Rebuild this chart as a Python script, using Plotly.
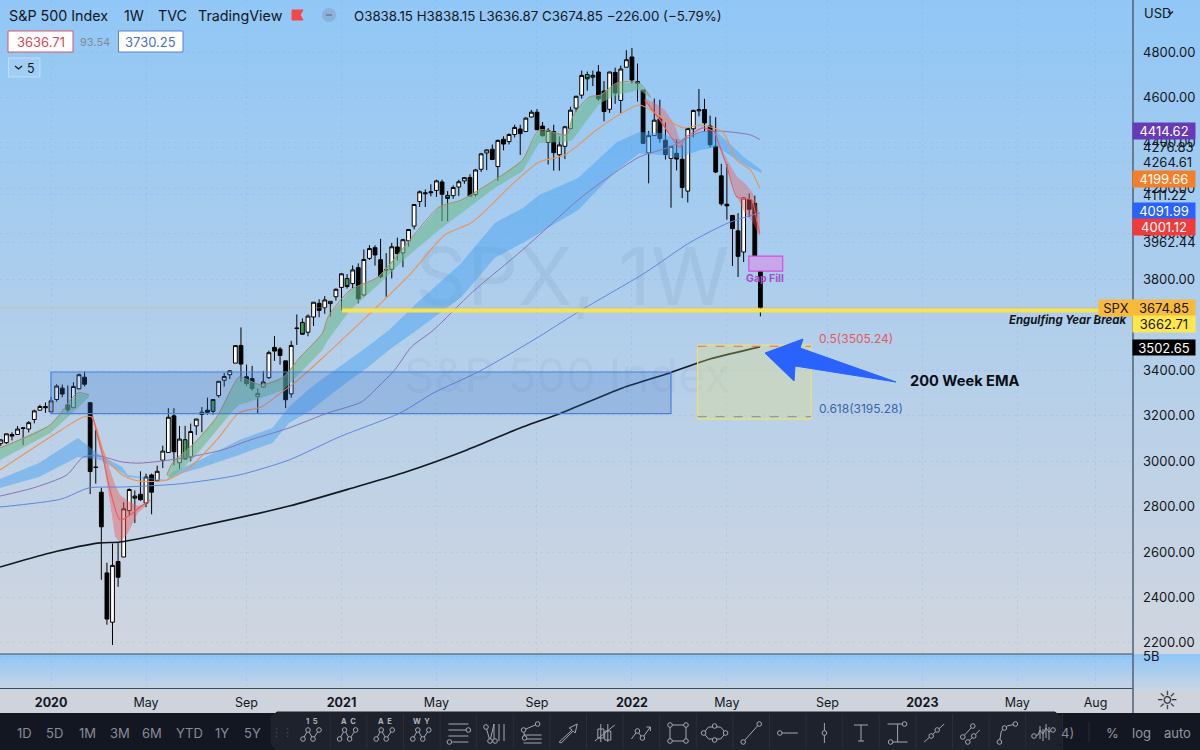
import pandas as pd
import plotly.graph_objects as go

W, H = 1200, 750
AXIS_X = 1133   # left edge of the price scale, pixels
TEXT = "#131722"
FONT = "Inter"

# weekly candles, S&P 500
opens = [3078, 3081, 3117, 3117, 3144, 3141, 3183, 3224, 3240, 3217,
         3271, 3321, 3247, 3235, 3318, 3369, 3257, 2974, 2863, 2508,
         2291, 2558, 2578, 2782, 2846, 2854, 2815, 2939, 2913, 3004,
         3038, 3199, 2993, 3094, 3018, 3155, 3205, 3224, 3219, 3288,
         3356, 3380, 3431, 3509, 3371, 3363, 3285, 3326, 3367, 3500,
         3493, 3441, 3296, 3583, 3610, 3567, 3634, 3694, 3675, 3693,
         3723, 3764, 3803, 3781, 3851, 3731, 3892, 3939, 3886, 3842,
         3844, 3942, 3916, 3969, 4034, 4142, 4176, 4185, 4191, 4228,
         4169, 4168, 4206, 4233, 4248, 4173, 4284, 4356, 4372, 4296,
         4416, 4406, 4437, 4461, 4450, 4514, 4535, 4474, 4402, 4450,
         4348, 4385, 4463, 4553, 4610, 4701, 4689, 4712, 4628, 4548,
         4710, 4587, 4733, 4778, 4670, 4632, 4356, 4432, 4505, 4412,
         4332, 4354, 4328, 4188, 4462, 4541, 4547, 4474, 4385, 4255,
         4130, 4081, 4013, 3920, 4151, 4134, 3838.15]
highs = [3097, 3120, 3127, 3154, 3150, 3176, 3226, 3248, 3258, 3282,
         3338, 3337, 3333, 3347, 3385, 3393, 3260, 3137, 2883, 2553,
         2637, 2641, 2819, 2880, 2871, 2955, 2945, 2945, 2980, 3068,
         3233, 3233, 3155, 3155, 3165, 3186, 3238, 3279, 3272, 3352,
         3387, 3399, 3509, 3588, 3425, 3419, 3320, 3397, 3486, 3550,
         3502, 3441, 3529, 3645, 3628, 3645, 3699, 3712, 3726, 3703,
         3760, 3826, 3823, 3861, 3870, 3931, 3950, 3950, 3978, 3915,
         3960, 3983, 3978, 4019, 4130, 4191, 4195, 4218, 4238, 4238,
         4188, 4213, 4238, 4249, 4262, 4286, 4356, 4372, 4393, 4415,
         4429, 4442, 4480, 4480, 4513, 4545, 4549, 4492, 4465, 4480,
         4429, 4475, 4559, 4608, 4718, 4714, 4718, 4743, 4672, 4713,
         4731, 4740, 4808, 4818, 4749, 4632, 4453, 4595, 4590, 4490,
         4385, 4416, 4389, 4465, 4546, 4637, 4594, 4520, 4513, 4308,
         4307, 4081, 4091, 4159, 4178, 4168, 3838.15]
lows = [3066, 3075, 3091, 3115, 3070, 3126, 3166, 3222, 3212, 3214,
        3262, 3281, 3214, 3235, 3316, 3328, 2855, 2901, 2478, 2280,
        2191, 2447, 2578, 2761, 2727, 2825, 2797, 2766, 2910, 2969,
        3038, 2982, 2965, 3007, 2999, 3115, 3127, 3204, 3204, 3279,
        3328, 3361, 3431, 3349, 3330, 3310, 3209, 3323, 3361, 3441,
        3424, 3233, 3279, 3511, 3557, 3549, 3594, 3633, 3648, 3636,
        3706, 3663, 3759, 3760, 3694, 3725, 3885, 3860, 3805, 3723,
        3804, 3883, 3853, 3944, 4020, 4118, 4118, 4165, 4162, 4056,
        4056, 4154, 4167, 4220, 4165, 4164, 4272, 4280, 4325, 4233,
        4367, 4393, 4424, 4347, 4449, 4513, 4458, 4427, 4305, 4278,
        4278, 4329, 4459, 4537, 4595, 4630, 4650, 4585, 4495, 4532,
        4572, 4531, 4733, 4662, 4582, 4395, 4222, 4431, 4401, 4327,
        4115, 4279, 4157, 4138, 4424, 4517, 4450, 4381, 4267, 4124,
        4062, 3858, 3810, 3876, 4074, 3900, 3636.87]
closes = [3093, 3120, 3110, 3141, 3146, 3169, 3221, 3240, 3235, 3265,
          3330, 3295, 3225, 3328, 3380, 3338, 2954, 2972, 2711, 2305,
          2541, 2489, 2790, 2875, 2837, 2830, 2930, 2863, 2955, 3044,
          3193, 3041, 3097, 3009, 3130, 3185, 3215, 3215, 3271, 3351,
          3372, 3397, 3508, 3427, 3341, 3319, 3298, 3348, 3477, 3484,
          3465, 3270, 3509, 3585, 3558, 3638, 3699, 3663, 3709, 3703,
          3756, 3824, 3768, 3841, 3714, 3887, 3935, 3907, 3811, 3842,
          3943, 3913, 3974, 4019, 4129, 4185, 4180, 4181, 4233, 4174,
          4156, 4204, 4229, 4247, 4166, 4281, 4352, 4369, 4327, 4411,
          4395, 4437, 4468, 4441, 4509, 4535, 4458, 4432, 4455, 4357,
          4391, 4471, 4544, 4605, 4697, 4682, 4697, 4594, 4538, 4712,
          4620, 4725, 4766, 4677, 4662, 4398, 4432, 4500, 4419, 4349,
          4385, 4329, 4204, 4463, 4543, 4546, 4488, 4392, 4272, 4132,
          4123, 4023, 3901, 4158, 4108, 3901, 3674.85]
green_weeks = ["2020-04-20", "2020-06-22", "2020-07-27", "2020-11-16",
               "2021-01-11", "2021-05-17", "2021-11-08"]

# moving averages: bar slot, price
ema200_at = [0, 9, 18, 21.6, 36, 52, 64, 73, 84, 94, 101, 112, 120.5, 127.7, 136.7]
ema200 = [2534, 2596, 2640, 2644, 2714, 2802, 2886, 2952, 3049, 3150, 3212, 3322, 3388, 3449, 3502.65]

ema100_at = [0, 11, 16, 22, 32, 43, 52, 61, 72, 78, 86, 96, 104, 116, 124, 131, 136.7]
ema100 = [2798, 2833, 2882, 2886, 2899, 2939, 3005, 3106, 3212, 3300, 3392, 3533, 3656, 3828, 3960, 4048, 4091.99]

ema50_at = [0, 6, 12, 15, 18, 22, 25, 29, 34, 40, 45, 52, 59, 65, 68, 71, 74, 78, 85, 94,
            104, 108, 115, 120.5, 126, 129.5, 135, 136.7]
ema50 = [2846, 2882, 2939, 3018, 3022, 2996, 2991, 3000, 3018, 3049, 3093, 3146, 3212, 3260, 3326, 3401, 3502, 3577, 3744, 3929,
         4149, 4224, 4338, 4382, 4448, 4452, 4435, 4414.62]

ema21_at = [0, 11, 15, 16.5, 19, 22, 25, 30, 34, 39, 43, 47, 50, 53, 59, 61.5, 68, 74, 80, 85, 93,
            97, 101.6, 108, 115, 119, 123, 126, 130, 132.5, 135, 136.7]
ema21 = [2961, 3137, 3194, 3194, 3018, 2939, 2912, 2917, 2970, 3093, 3212, 3238, 3291, 3344, 3476, 3533, 3683, 3828, 3995, 4052, 4237,
         4316, 4347, 4470, 4567, 4514, 4466, 4479, 4448, 4325, 4281, 4199.66]

# blue ribbon
blue_at = [0, 7, 14, 18, 22, 23, 30, 31, 36, 43, 49, 52, 56, 61, 66, 70, 75, 83, 89, 94,
           97, 104, 111, 115, 119, 122, 126, 129, 134, 137]
blue_top = [2921, 2992, 3102, 3027, 2974, 2939, 2917, 2952, 3005, 3093, 3146, 3238, 3326, 3414, 3502, 3577, 3696, 3872, 4048, 4113,
            4171, 4246, 4404, 4448, 4444, 4413, 4448, 4448, 4334, 4281]
blue_bot = [2882, 2930, 3018, 3005, 2948, 2930, 2912, 2934, 2970, 3027, 3080, 3168, 3225, 3322, 3410, 3489, 3577, 3722, 3894, 3960,
            4003, 4105, 4281, 4355, 4347, 4334, 4369, 4382, 4303, 4268]

# green ribbon, early and long stretch
green1_at = [0, 9, 14, 16]
green1_top = [3058, 3159, 3300, 3291]
green1_bot = [3005, 3123, 3234, 3282]

green2_at = [30, 31, 35, 39, 42, 43, 47, 51, 54, 58, 59, 63, 68, 73, 79, 83, 89, 94, 97, 102, 103, 106, 108, 111, 115, 117]
green2_top = [2939, 2991, 3080, 3194, 3335, 3370, 3335, 3370, 3458, 3563, 3634, 3753, 3810, 3951, 4118, 4149, 4237, 4325, 4457, 4436, 4515, 4602, 4611, 4664, 4664, 4602]
green2_bot = [2934, 2925, 3018, 3137, 3225, 3247, 3278, 3313, 3388, 3489, 3533, 3665, 3775, 3894, 4017, 4092, 4202, 4275, 4400, 4405, 4413, 4514, 4576, 4611, 4633, 4598]

# red ribbon, three stretches
red1_at = [16.7, 18.5, 19.8, 20.7, 21.6, 23, 24.8, 27, 28.8]
red1_top = [3194, 3049, 2961, 2895, 2851, 2824, 2802, 2820, 2882]
red1_bot = [3194, 3018, 2816, 2666, 2644, 2683, 2772, 2820, 2882]
red1_line_at = [16.7, 18.5, 19.8, 21.6, 23.4, 25.2, 27]
red1_line = [3194, 3018, 2873, 2741, 2763, 2798, 2829]

red2_at = [116, 117.8, 119.6, 121.4, 122.7]
red2_top = [4598, 4576, 4545, 4479, 4382]
red2_bot = [4580, 4523, 4470, 4413, 4382]
red2_line_at = [116, 118.7, 122.3, 123.2, 125, 126.4, 128.6]
red2_line = [4589, 4501, 4382, 4422, 4448, 4466, 4448]

red3_at = [128.6, 129.5, 130.8, 132.6, 134, 135.4, 136.7]
red3_top = [4448, 4391, 4325, 4250, 4224, 4180, 4083]
red3_bot = [4448, 4382, 4294, 4162, 4092, 4052, 3986]
red3_line_at = [128.6, 129.5, 130.8, 132.6, 135.2, 136.1, 136.7]
red3_line = [4448, 4382, 4294, 4162, 4149, 4061, 4001.12]

# axis labels
price_ticks = [4800, 4600, 4400, 4200, 4000, 3800, 3400, 3200, 3000, 2800, 2600, 2400, 2200]
off_scale_ticks = [4382, 4312, 4171, 3960, 2142]   # these labels sit away from their own price
off_scale_labels = ["4276.83", "4264.61", "4111.22", "3962.44", "5B"]
time_ticks = ["2020-01-06", "2020-05-04", "2020-09-07", "2021-01-04", "2021-05-03", "2021-09-06",
              "2022-01-03", "2022-05-02", "2022-09-05", "2023-01-02", "2023-05-01", "2023-08-07"]
time_labels = ["<b>2020</b>", "May", "Sep", "<b>2021</b>", "May", "Sep",
               "<b>2022</b>", "May", "Sep", "<b>2023</b>", "May", "Aug"]
ranges = ["1D", "5D", "1M", "3M", "6M", "YTD", "1Y", "5Y"]
range_x = [24, 54, 87, 120, 152, 189, 222, 252]

dates = pd.date_range("2019-11-04", periods=len(closes), freq="7D")
x_start = pd.Timestamp("2019-11-03")
x_end = pd.Timestamp("2023-09-23")


def slot_date(slot):
    # bar slots are 5.56 px apart, the time axis runs at 0.7981 px per day
    return x_start + pd.Timedelta(days=slot * 6.967)


def slot_dates(slots):
    return [slot_date(s) for s in slots]


def px(x):
    return x / W


def py(y):
    return 1 - y / H


shapes = []
annotations = []


def box(x0, y0, x1, y1, fill, line=None, layer="above", width=1):
    shapes.append(dict(type="rect", xref="paper", yref="paper", x0=px(x0), x1=px(x1), y0=py(y0), y1=py(y1),
                       fillcolor=fill, line=dict(color=line or "rgba(0,0,0,0)", width=width if line else 0), layer=layer))


def seg(points, color="#a3a7b2", width=1, fill=None):
    path = "M " + " L ".join(f"{px(x)} {py(y)}" for x, y in points)
    if fill:
        path += " Z"
    shapes.append(dict(type="path", xref="paper", yref="paper", path=path, fillcolor=fill,
                       line=dict(color=color, width=width)))


def node(x, y, r=2.3):
    shapes.append(dict(type="circle", xref="paper", yref="paper", x0=px(x - r), x1=px(x + r), y0=py(y + r), y1=py(y - r),
                       fillcolor="#1e222d", line=dict(color="#a3a7b2", width=1)))


def label(x, y, text, size=13, color=TEXT, anchor="left", family=FONT):
    annotations.append(dict(xref="paper", yref="paper", x=px(x), y=py(y), text=text, showarrow=False,
                            xanchor=anchor, yanchor="middle", font=dict(family=family, size=size, color=color)))


def badge(x0, y0, x1, y1, text, fill, color="#ffffff"):
    annotations.append(dict(xref="paper", yref="paper", x=px((x0 + x1) / 2), y=py((y0 + y1) / 2), text=text, showarrow=False,
                            xanchor="center", yanchor="middle", width=x1 - x0, height=y1 - y0, bgcolor=fill, borderpad=0,
                            font=dict(family=FONT, size=13, color=color)))


def lerp(a, b, t):
    return tuple(round(p + (q - p) * t) for p, q in zip(a, b))


# backgrounds
for y in range(0, 654, 6):
    r, g, b = lerp((145, 199, 246), (209, 214, 224), y / 654)
    box(0, y, W, y + 6, f"rgb({r},{g},{b})", layer="below")
for y in range(654, 688, 3):
    r, g, b = lerp((145, 199, 246), (200, 212, 228), (y - 654) / 34)
    box(0, y, W, y + 3, f"rgb({r},{g},{b})", layer="below")

fig = go.Figure()

# watermarks
fig.add_trace(go.Scatter(x=[slot_date(103)], y=[3775], mode="text", text=["SPX, 1W"], hoverinfo="skip",
                         textfont=dict(family=FONT, size=80, color="rgba(70,100,130,0.09)")))
fig.add_trace(go.Scatter(x=[slot_date(102)], y=[3357], mode="text", text=["S&P 500 Index"], hoverinfo="skip",
                         textfont=dict(family=FONT, size=47, color="rgba(70,100,130,0.08)")))


def ribbon(at, top, bot, color):
    xs = slot_dates(at)
    fig.add_trace(go.Scatter(x=xs + xs[::-1], y=top + bot[::-1], mode="lines", fill="toself", fillcolor=color,
                             line=dict(width=0), hoverinfo="skip"))


def ma_line(at, values, color, width=1):
    fig.add_trace(go.Scatter(x=slot_dates(at), y=values, mode="lines", hoverinfo="skip",
                             line=dict(color=color, width=width, shape="spline", smoothing=0.7)))


ribbon(blue_at, blue_top, blue_bot, "rgba(70,160,240,0.48)")
ribbon(green1_at, green1_top, green1_bot, "rgba(110,185,140,0.58)")
ribbon(green2_at, green2_top, green2_bot, "rgba(110,185,140,0.58)")
ribbon(red1_at, red1_top, red1_bot, "rgba(235,90,90,0.45)")
ribbon(red2_at, red2_top, red2_bot, "rgba(235,90,90,0.40)")
ribbon(red3_at, red3_top, red3_bot, "rgba(235,90,90,0.40)")

ma_line(ema100_at, ema100, "#5f86e0")
ma_line(ema50_at, ema50, "#8a74b8")
ma_line(ema21_at, ema21, "#ee9350", 1.1)
ma_line(green1_at, green1_top, "#b08a60")
ma_line(green2_at, green2_top, "#b08a60")
ma_line(red1_line_at, red1_line, "#ee5a5a", 1.1)
ma_line(red2_line_at, red2_line, "#ee5a5a", 1.1)
ma_line(red3_line_at, red3_line, "#ee5a5a", 1.1)
ma_line(ema200_at, ema200, "#111820", 1.6)

# candles
candles = pd.DataFrame(dict(date=dates, o=opens, h=highs, l=lows, c=closes))
is_green = candles["date"].isin(pd.to_datetime(green_weeks))
plain = candles[~is_green]
green = candles[is_green]
fig.add_trace(go.Candlestick(x=plain["date"], open=plain["o"], high=plain["h"], low=plain["l"], close=plain["c"],
                             increasing=dict(line=dict(color="#000000", width=1), fillcolor="#ffffff"),
                             decreasing=dict(line=dict(color="#000000", width=1), fillcolor="#000000"),
                             whiskerwidth=0, hoverinfo="skip"))
fig.add_trace(go.Candlestick(x=green["date"], open=green["o"], high=green["h"], low=green["l"], close=green["c"],
                             increasing=dict(line=dict(color="#000000", width=1), fillcolor="#3f9a55"),
                             decreasing=dict(line=dict(color="#000000", width=1), fillcolor="#3f9a55"),
                             whiskerwidth=0, hoverinfo="skip"))


def zone(slot0, slot1, y0, y1, fill, line, width=1):
    shapes.append(dict(type="rect", xref="x", yref="y", x0=slot_date(slot0), x1=slot_date(slot1), y0=y0, y1=y1,
                       fillcolor=fill, line=dict(color=line, width=width)))


def level(slot0, slot1, y, color, width=1, dash="solid"):
    shapes.append(dict(type="line", xref="x", yref="y", x0=slot_date(slot0), x1=slot_date(slot1), y0=y, y1=y,
                       line=dict(color=color, width=width, dash=dash)))


# drawings
level(0, 198, 3674.85, "rgba(240,170,60,0.35)")
zone(9.17, 120.7, 3209, 3392, "rgba(50,110,205,0.25)", "#4a80d8", 1.2)
zone(125.5, 145.9, 3185, 3510, "rgba(235,225,120,0.30)", "#ece07c", 1.2)
level(125.5, 145.9, 3505.24, "#e0705a", 1, "dash")
level(125.5, 145.9, 3195.28, "#7f8f8f", 1, "dash")
level(61.5, 198, 3662.71, "#f6e34f", 4)
zone(134.7, 140.8, 3836, 3902, "#c8a6ea", "#d452d8", 1.2)

# blue arrow
seg([(765, 353), (803, 339), (800, 348), (896, 382), (795, 366), (794, 381)], color="#2962ff", fill="#2962ff")

label(765, 278, "<b>Gap Fill</b>", 10.5, "#a64cc4", "center")
label(817, 338, "0.5(3505.24)", 12, "#e25a5f")
label(817, 408, "0.618(3195.28)", 12, "#3a66a8")
label(908, 381, "<b>200 Week EMA</b>", 14.6, "#0b0e14")
label(1128, 320, "<b><i>Engulfing Year Break</i></b>", 11.4, TEXT, "right")

# header
label(7, 16, "S&P 500 Index", 14.3)
label(122, 16, "1W", 14.3)
label(156, 16, "TVC", 14.3)
label(196, 16, "TradingView", 14.3)
seg([(292, 10), (303, 10), (300, 15), (303, 20), (292, 20)], color="#f44848", fill="#f44848")
shapes.append(dict(type="circle", xref="paper", yref="paper", x0=px(322), x1=px(336), y0=py(22), y1=py(8),
                   fillcolor="rgba(120,140,165,0.35)", line=dict(width=0)))
seg([(326, 15), (332, 15)], color="#7d8794", width=2)
label(352, 16, "O3838.15 H3838.15 L3636.87 C3674.85 −226.00 (−5.79%)", 13.3)

box(8, 31, 73, 52, "#ffffff", "#d9585f")
label(40.5, 41.5, "3636.71", 13, "#d9485a", "center")
label(95, 42, "93.54", 11, "#7f8a99", "center")
box(118.5, 31, 183, 52, "#ffffff", "#5a80d0")
label(150.5, 41.5, "3730.25", 13, "#4a70c4", "center")
box(8.5, 58, 40, 77, "rgba(255,255,255,0.10)", "rgba(255,255,255,0.35)")
seg([(15, 66), (18.5, 69), (22, 66)], color=TEXT, width=1.2)
label(31, 68, "5", 12.5, TEXT, "center")

# price scale badges
badge(1133, 123, 1195, 139, "4414.62", "#673ab7")
badge(1133, 171, 1195, 187, "4199.66", "#f57f29")
badge(1133, 203, 1195, 219, "4091.99", "#2962ff")
badge(1133, 219, 1195, 235, "4001.12", "#ef3b3b")
badge(1099, 300, 1133, 316, "SPX", "#f9b93a", TEXT)
badge(1133, 300, 1195, 316, "3674.85", "#f9b93a", TEXT)
badge(1133, 316, 1195, 332, "3662.71", "#fde74c", TEXT)
badge(1133, 340, 1195, 355, "3502.65", "#000000")
label(1142, 13, "USD", 13)
seg([(1168, 11.5), (1170.5, 14), (1173, 11.5)], color=TEXT, width=1.2)

# frame lines
seg([(0, 654), (AXIS_X, 654)], color="#3f4a5a", width=1)
seg([(AXIS_X, 0), (AXIS_X, 713)], color="#56677c", width=1.6)
label(1167, 700, "☼", 25, "#2a2e39", "center", "DejaVu Sans")

# bottom bar
box(0, 713, W, H, "#131722")
for name, x in zip(ranges, range_x):
    label(x, 733, name, 13, "#868c99", "center")
label(1067, 733, "4)", 13, "#868c99", "center")
seg([(1089, 722), (1089, 742)], color="#2a2e39")
label(1112, 733, "%", 13, "#9598a1", "center")
label(1141, 733, "log", 13, "#9598a1", "center")
label(1177, 733, "auto", 13, "#9598a1", "center")

# drawing toolbar
tb_x0, tb_x1, tb_y0 = 271, 1061, 712
seg([(tb_x0 + 6, tb_y0), (tb_x1 - 6, tb_y0), (tb_x1, tb_y0 + 5), (tb_x1, H), (tb_x0 + 6, H), (tb_x0, H - 6), (tb_x0, tb_y0 + 5)],
    color="#1e222d", fill="#1e222d")
label(282, 732, "⋮⋮", 11, "#4a4f5c", "center", "DejaVu Sans")

wave = dict(lines=[[(-9, 6), (-4, -3), (1, 6), (7, -3)]], nodes=[(-9, 6), (-4, -3), (1, 6), (7, -3)])
icons = [
    dict(wave, tag="1  5"),
    dict(wave, tag="A  C"),
    dict(wave, tag="A  E"),
    dict(wave, tag="W  Y"),
    dict(lines=[[(-10, -9), (10, -9)], [(-10, -3), (9, -3)], [(-10, 3), (10, 3)], [(-6, 9), (10, 9)]], nodes=[(10, -3), (-9, 9)]),
    dict(lines=[[(-9, -6), (-5, 8)], [(-5, 8), (-1, -9)], [(-1, -9), (-1, 8)], [(4, -9), (4, 8)], [(9, -9), (9, 8)]], nodes=[(-9, -6), (-5, 8), (0, 8)]),
    dict(lines=[[(-8, -3), (6, -9)], [(-8, -3), (-7, 5)], [(-8, 2), (10, 2)], [(-8, 6), (10, 6)], [(-8, 10), (10, 10)]], nodes=[(-8, -3), (6, -9), (-7, 5)]),
    dict(lines=[[(-9, 9), (4, -3), (1, -5), (9, -9), (7, 0), (5, -2), (-7, 10), (-9, 9)]], nodes=[]),
    dict(lines=[[(-4, -9), (-4, 9)], [(-7, -4), (-1, -4), (-1, 5), (-7, 5), (-7, -4)], [(3, -9), (3, 9)], [(0, -2), (6, -2), (6, 7), (0, 7), (0, -2)], [(-10, 8), (10, -8)]], nodes=[]),
    dict(lines=[[(-10, 6), (-4, -2), (1, 5), (9, -6)], [(5, -6), (9, -6), (9, -2)]], nodes=[(-4, -2), (1, 5)]),
    dict(lines=[[(-8, -8), (8, -8), (8, 8), (-8, 8), (-8, -8)]], nodes=[(-8, -8), (8, -8), (8, 8), (-8, 8)]),
    dict(lines=[[(-11, 0), (-6, -6), (6, -6), (11, 0), (6, 6), (-6, 6), (-11, 0)]], nodes=[(-11, 0), (0, -7), (11, 0), (0, 7)]),
    dict(lines=[[(-8, 9), (8, -9)]], nodes=[(-8, 9), (8, -9)]),
    dict(lines=[[(-8, 0), (10, 0)]], nodes=[(-8, 0)]),
    dict(lines=[[(0, -10), (0, 10)]], nodes=[(0, 0)]),
    dict(lines=[[(-7, -8), (7, -8)], [(0, -8), (0, 8)], [(-3, 8), (3, 8)]], nodes=[]),
    dict(lines=[[(-10, -9), (7, -9)], [(0, -9), (0, 9)], [(-7, 9), (10, 9)]], nodes=[(7, -9), (-7, 9)]),
    dict(lines=[[(-10, 9), (10, -9)]], nodes=[(-3, 3), (3, -3)]),
    dict(lines=[[(-8, 4), (3, -8)], [(-3, 9), (9, -3)]], nodes=[(-8, 4), (2, -7), (-3, 9), (3, 3)]),
    dict(lines=[[(-8, 9), (-6, -2), (0, -7), (8, -9)]], nodes=[(-8, 9), (-3, -5), (8, -9)]),
    dict(lines=[[(-10, 3), (-6, 2), (-4, -3), (-1, 1), (2, -5), (5, -1), (8, -3)], [(-4, -7), (-4, 6)], [(-1, -4), (-1, 8)], [(2, -9), (2, 5)], [(5, -6), (5, 7)]], nodes=[(-10, 3), (9, -3)]),
]
for i, icon in enumerate(icons):
    cx = 312 + 36.6 * i
    for line in icon["lines"]:
        seg([(cx + a, 733 + b) for a, b in line])
    for a, b in icon["nodes"]:
        node(cx + a, 733 + b)
    if "tag" in icon:
        label(cx, 721, f"<b>{icon['tag']}</b>", 7.5, "#b2b5be", "center")
    seg([(cx + 18.3, 714), (cx + 18.3, 749)], color="#2a2e39")

fig.update_layout(
    width=W,
    height=H,
    margin=dict(l=0, r=0, t=0, b=0, pad=0),
    paper_bgcolor="#ced3dc",
    plot_bgcolor="rgba(0,0,0,0)",
    showlegend=False,
    hovermode=False,
    boxmode="overlay",
    boxgap=0.32,
    boxgroupgap=0,
    shapes=shapes,
    annotations=annotations,
    xaxis=dict(
        domain=[0, AXIS_X / W],
        range=[x_start, x_end],
        rangeslider=dict(visible=False),
        tickmode="array",
        tickvals=time_ticks,
        ticktext=time_labels,
        ticks="",
        tickangle=0,
        tickfont=dict(family=FONT, size=12.5, color=TEXT),
        showgrid=True,
        gridcolor="rgba(110,160,215,0.18)",
        griddash="dot",
        showline=True,
        linecolor="#3f4a5a",
        linewidth=1,
        ticklabelstandoff=3,
        zeroline=False,
    ),
    yaxis=dict(
        domain=[py(688), 1],
        range=[2001.6, 5028.8],
        side="right",
        tickmode="array",
        tickvals=price_ticks + off_scale_ticks,
        ticktext=[f"{v:.2f}" for v in price_ticks] + off_scale_labels,
        ticks="",
        tickfont=dict(family=FONT, size=13, color=TEXT),
        ticklabelstandoff=9,
        showgrid=True,
        gridcolor="rgba(110,160,215,0.16)",
        griddash="dot",
        zeroline=False,
    ),
)

fig.write_html("out.html", post_script="document.body.style.margin='0';", config=dict(displayModeBar=False))
